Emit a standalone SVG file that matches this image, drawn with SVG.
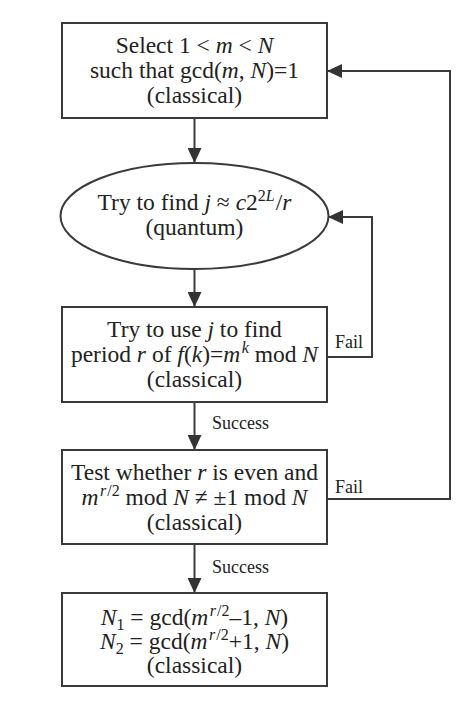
<svg xmlns="http://www.w3.org/2000/svg" width="474" height="711" viewBox="0 0 474 711">
<style>
.box{fill:#fff;stroke:#3a3a3a;stroke-width:2}
.t{font-family:"Liberation Serif","Times New Roman",serif;font-size:23.5px;fill:#222;text-anchor:middle}
.lbl{font-family:"Liberation Serif","Times New Roman",serif;font-size:18px;fill:#222}
.i{font-style:italic}
.s{font-size:16px}
.c{fill:none;stroke:#3a3a3a;stroke-width:2}
</style>
<defs>
<marker id="ah" markerUnits="userSpaceOnUse" markerWidth="16" markerHeight="14" refX="15" refY="7" orient="auto">
<path d="M0,0 L15,7 L0,14 Z" fill="#333"/>
</marker>
</defs>
<rect width="474" height="711" fill="#fff"/>
<g id="connectors">
<line class="c" x1="194.5" y1="118" x2="194.5" y2="163" marker-end="url(#ah)"/>
<line class="c" x1="194.5" y1="269" x2="194.5" y2="307" marker-end="url(#ah)"/>
<line class="c" x1="194.5" y1="402" x2="194.5" y2="450" marker-end="url(#ah)"/>
<line class="c" x1="194.5" y1="544" x2="194.5" y2="593" marker-end="url(#ah)"/>
<polyline class="c" points="327,357 372,357 372,217 328,217" marker-end="url(#ah)"/>
<polyline class="c" points="327,499 450,499 450,71 327,71" marker-end="url(#ah)"/>
<text class="lbl" x="335" y="348">Fail</text>
<text class="lbl" x="335" y="493">Fail</text>
<text class="lbl" x="212" y="429">Success</text>
<text class="lbl" x="212" y="573">Success</text>
</g>
<g id="n1">
<rect class="box" x="62" y="23" width="265" height="95"/>
<text class="t" x="194.5" y="53">Select 1 &lt; <tspan class="i">m</tspan> &lt; <tspan class="i">N</tspan></text>
<text class="t" x="194.5" y="78">such that gcd(<tspan class="i">m</tspan>, <tspan class="i">N</tspan>)=1</text>
<text class="t" x="194.5" y="103">(classical)</text>
</g>
<g id="n2">
<ellipse class="box" cx="194.5" cy="216" rx="134" ry="53"/>
<text class="t" x="194.5" y="210">Try to find <tspan class="i">j</tspan> ≈ <tspan class="i">c</tspan>2<tspan class="s" dy="-9">2<tspan class="i">L</tspan></tspan><tspan dy="9" dx="1">/</tspan><tspan class="i">r</tspan></text>
<text class="t" x="194.5" y="235">(quantum)</text>
</g>
<g id="n3">
<rect class="box" x="62" y="307" width="265" height="95"/>
<text class="t" x="194.5" y="337">Try to use <tspan class="i">j</tspan> to find</text>
<text class="t" x="194.5" y="362">period <tspan class="i">r</tspan> of <tspan class="i">f</tspan>(<tspan class="i">k</tspan>)=<tspan class="i">m</tspan><tspan class="s i" dy="-9" dx="1.5">k</tspan><tspan dy="9"> mod </tspan><tspan class="i">N</tspan></text>
<text class="t" x="194.5" y="387">(classical)</text>
</g>
<g id="n4">
<rect class="box" x="62" y="450" width="265" height="94"/>
<text class="t" x="194.5" y="480">Test whether <tspan class="i">r</tspan> is even and</text>
<text class="t" x="194.5" y="505"><tspan class="i">m</tspan><tspan class="s i" dy="-9" dx="1.5">r</tspan><tspan class="s" dx="1">/2</tspan><tspan dy="9"> mod </tspan><tspan class="i">N</tspan> ≠ ±1 mod <tspan class="i">N</tspan></text>
<text class="t" x="194.5" y="530">(classical)</text>
</g>
<g id="n5">
<rect class="box" x="62" y="593" width="265" height="93"/>
<text class="t" x="194.5" y="625"><tspan class="i">N</tspan><tspan class="s" dy="5">1</tspan><tspan dy="-5"> = gcd(</tspan><tspan class="i">m</tspan><tspan class="s i" dy="-9" dx="1.5">r</tspan><tspan class="s" dx="1">/2</tspan><tspan dy="9">–1, </tspan><tspan class="i">N</tspan>)</text>
<text class="t" x="194.5" y="649"><tspan class="i">N</tspan><tspan class="s" dy="5">2</tspan><tspan dy="-5"> = gcd(</tspan><tspan class="i">m</tspan><tspan class="s i" dy="-9" dx="1.5">r</tspan><tspan class="s" dx="1">/2</tspan><tspan dy="9">+1, </tspan><tspan class="i">N</tspan>)</text>
<text class="t" x="194.5" y="673">(classical)</text>
</g>
</svg>
